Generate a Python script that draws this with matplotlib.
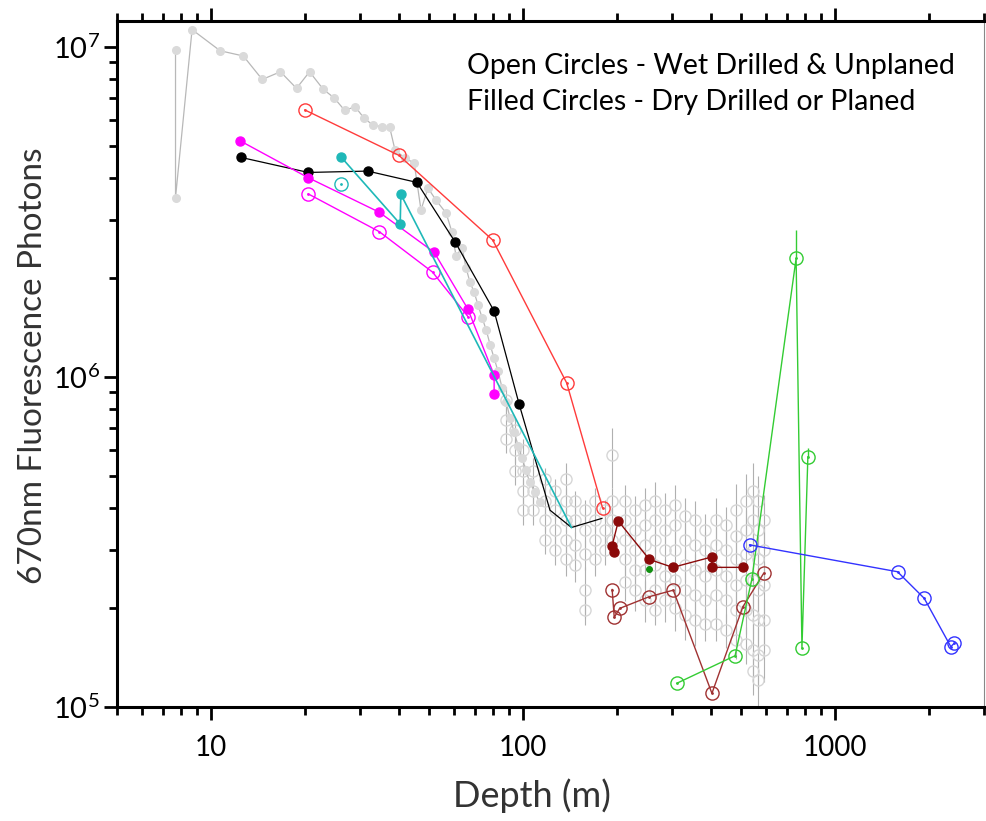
import matplotlib.pyplot as plt
import matplotlib.ticker as mticker
import numpy as np

plt.rcParams['font.family'] = ['Lato', 'DejaVu Sans']
plt.rcParams['mathtext.fontset'] = 'custom'
plt.rcParams['mathtext.rm'] = 'Liberation Sans'

# gray reference profile (filled dots + line)
gray_depth = [7.7, 7.7, 8.7, 10.7, 12.7, 14.6, 16.7, 18.8, 20.7, 22.9, 24.8, 26.8, 29.0,
              31.0, 33.1, 35.2, 37.4, 38.9, 41.9, 44.8, 47.1, 49.6, 52.6, 56.7, 59.2,
              61.0, 63.8, 65.7, 67.6, 69.7, 71.8, 74.0, 76.2, 78.5, 80.8, 83.2, 85.7,
              88.3, 90.9, 93.7, 96.5, 99.4, 102, 105, 109, 113]
gray_phot = [9.8e6, 3.5e6, 1.13e7, 9.75e6, 9.4e6, 7.98e6, 8.42e6, 7.5e6, 8.42e6, 7.45e6,
             7.02e6, 6.44e6, 6.59e6, 6.08e6, 5.8e6, 5.74e6, 5.71e6, 4.87e6, 4.61e6,
             4.45e6, 3.21e6, 3.74e6, 3.44e6, 3.14e6, 2.75e6, 2.33e6, 2.46e6, 2.14e6,
             1.94e6, 1.81e6, 1.65e6, 1.51e6, 1.39e6, 1.25e6, 1.14e6, 1.04e6, 9.26e5,
             8.4e5, 7.51e5, 6.81e5, 6.18e5, 5.68e5, 5.23e5, 4.81e5, 4.48e5, 4.18e5]

# gray cloud (open circles with error bars), photons in units of 1e5
cloud_depth = [88, 88, 88, 94, 94, 94, 100, 100, 100, 100, 108, 108, 108,
               118, 118, 118, 118, 127, 127, 127, 127, 137, 137, 137, 137, 137,
               147, 147, 147, 147, 158, 158, 158, 158, 158, 170, 170, 170, 170,
               183, 183, 183, 193, 193, 193, 193, 212, 212, 212, 212, 212,
               229, 229, 229, 229, 229, 246, 246, 246, 246, 246,
               265, 265, 265, 265, 265, 265, 286, 286, 286, 286, 286,
               308, 308, 308, 308, 308, 331, 331, 331, 331, 331,
               357, 357, 357, 357, 357, 384, 384, 384, 384, 384,
               414, 414, 414, 414, 414, 446, 446, 446, 446, 446,
               480, 480, 480, 480, 480, 480, 517, 517, 517, 517, 517, 517,
               545, 545, 545, 545, 545, 545, 545, 568, 568, 568, 568, 568, 568, 568,
               590, 590, 590, 590, 590]
cloud_phot = [8.5, 7.4, 6.5, 6.9, 6.0, 5.2, 6.0, 5.2, 4.5, 3.95, 5.2, 4.5, 3.95,
              4.9, 4.2, 3.7, 3.2, 4.5, 3.95, 3.45, 3.0, 4.9, 4.2, 3.7, 3.2, 2.8,
              4.2, 3.7, 3.1, 2.7, 3.95, 3.45, 2.9, 2.26, 1.97, 4.2, 3.7, 3.2, 2.8,
              3.95, 3.45, 3.0, 5.8, 4.2, 3.7, 3.2, 4.2, 3.7, 3.2, 2.8, 2.4,
              3.95, 3.45, 3.0, 2.6, 2.26, 4.1, 3.55, 3.1, 2.6, 2.11,
              4.2, 3.7, 3.2, 2.7, 2.26, 1.97, 3.95, 3.45, 3.0, 2.5, 2.11,
              4.1, 3.55, 3.0, 2.42, 2.0, 3.8, 3.2, 2.7, 2.26, 1.9,
              3.7, 3.1, 2.6, 2.18, 1.83, 3.45, 3.0, 2.5, 2.11, 1.78,
              3.7, 3.1, 2.6, 2.18, 1.78, 3.55, 3.0, 2.5, 2.11, 1.71,
              3.95, 3.3, 2.8, 2.34, 1.97, 1.6, 4.2, 3.45, 2.9, 2.42, 1.97, 1.55,
              4.5, 3.7, 3.0, 2.42, 1.9, 1.49, 1.29, 4.2, 3.45, 2.8, 2.26, 1.83, 1.44, 1.21,
              3.7, 3.0, 2.34, 1.83, 1.49]
cloud_err = [0.8, 0.7, 0.6, 0.6, 0.5, 0.5, 0.5, 0.5, 0.4, 0.4, 0.5, 0.4, 0.4,
             0.4, 0.4, 0.3, 0.3, 0.4, 0.3, 0.4, 0.3, 0.6, 0.4, 0.3, 0.3, 0.3,
             0.3, 0.4, 0.3, 0.3, 0.3, 0.4, 0.3, 0.4, 0.2, 0.4, 0.3, 0.3, 0.3,
             0.3, 0.4, 0.3, 1.2, 0.4, 0.3, 0.3, 0.5, 0.3, 0.4, 0.3, 0.3,
             0.4, 0.3, 0.4, 0.3, 0.3, 0.5, 0.4, 0.3, 0.3, 0.3,
             0.6, 0.4, 0.3, 0.4, 0.3, 0.2, 0.5, 0.3, 0.4, 0.3, 0.3,
             0.6, 0.4, 0.4, 0.3, 0.3, 0.5, 0.4, 0.3, 0.3, 0.3,
             0.5, 0.4, 0.3, 0.3, 0.3, 0.4, 0.4, 0.3, 0.3, 0.2,
             0.6, 0.4, 0.3, 0.3, 0.2, 0.5, 0.4, 0.3, 0.3, 0.2,
             0.8, 0.5, 0.4, 0.3, 0.3, 0.2, 0.9, 0.5, 0.4, 0.3, 0.3, 0.2,
             1.0, 0.6, 0.5, 0.4, 0.3, 0.3, 0.2, 0.8, 0.6, 0.4, 0.4, 0.3, 0.3, 0.2,
             0.7, 0.5, 0.4, 0.3, 0.3]

red_depth = [20, 40, 80, 138, 180]
red_phot = [6.45e6, 4.7e6, 2.6e6, 9.6e5, 4.0e5]

black_depth = [12.5, 20.5, 31.8, 45.7, 60.7, 80.8, 97.2, 122, 143, 179]
black_phot = [4.63e6, 4.17e6, 4.21e6, 3.89e6, 2.56e6, 1.585e6, 8.27e5, 3.95e5, 3.5e5, 3.73e5]

mag_fill_depth = [12.4, 20.5, 34.6, 51.9, 66.5, 80.8, 80.8]
mag_fill_phot = [5.2e6, 4.02e6, 3.16e6, 2.39e6, 1.61e6, 1.014e6, 8.88e5]
mag_open_depth = [20.5, 34.6, 51.3, 66.8]
mag_open_phot = [3.59e6, 2.76e6, 2.08e6, 1.52e6]

cyan_depth = [26.2, 40.4, 40.6, 143]
cyan_phot = [4.63e6, 2.91e6, 3.58e6, 3.5e5]
cyan_open_depth = [26.2]
cyan_open_phot = [3.85e6]

maroon_fill_depth = [196, 193, 202, 254, 302, 403, 403, 506]
maroon_fill_phot = [2.94e5, 3.08e5, 3.66e5, 2.8e5, 2.65e5, 2.85e5, 2.65e5, 2.65e5]
maroon_open_depth = [193, 196, 204, 254, 303, 403, 506, 590]
maroon_open_phot = [2.27e5, 1.87e5, 1.99e5, 2.16e5, 2.26e5, 1.10e5, 2.01e5, 2.54e5]

green_dot_depth = [254]
green_dot_phot = [2.62e5]
green_depth = [311, 478, 541, 750, 783, 818]
green_phot = [1.18e5, 1.43e5, 2.44e5, 2.29e6, 1.51e5, 5.73e5]
green_err = [0, 0, 0, 0.5e6, 0, 0.35e5]

blue_depth = [532, 1585, 1930, 2349, 2407]
blue_phot = [3.1e5, 2.57e5, 2.135e5, 1.523e5, 1.56e5]

fig = plt.figure(figsize=(9.86, 8.21), dpi=100)
ax = fig.add_axes([117/986, 1 - 707/821, 867/986, 686/821])

ax.errorbar(cloud_depth, np.array(cloud_phot) * 1e5, yerr=np.array(cloud_err) * 1e5,
            fmt='o', ms=8, mfc='none', mec='#d6d6d6', mew=1.0, ecolor='#b0b0b0',
            elinewidth=0.8, zorder=1)
ax.plot(gray_depth, gray_phot, '-', color='#b8b8b8', lw=0.9, marker='o', ms=5.5,
        mfc='#dadada', mec='#dadada', zorder=2)

def open_series(x, y, c):
    ax.plot(x, y, '-', color=c, lw=1.0, marker='o', ms=9.5, mfc='none', mec=c, mew=1.0, zorder=4)
    ax.plot(x, y, '.', color=c, ms=2, zorder=4)

open_series(red_depth, red_phot, '#ff3b3b')
ax.plot(black_depth, black_phot, '-', color='black', lw=0.9, marker='o', ms=6.5,
        markevery=list(range(7)), zorder=5)
ax.plot(mag_fill_depth, mag_fill_phot, '-', color='#ff00ff', lw=1.0, marker='o', ms=6.5, zorder=5)
open_series(mag_open_depth, mag_open_phot, '#ff00ff')
ax.plot(cyan_depth, cyan_phot, '-', color='#1fb8b8', lw=1.2, marker='o', ms=6.5,
        markevery=[0, 1, 2], zorder=5)
open_series(cyan_open_depth, cyan_open_phot, '#1fb8b8')
ax.plot(maroon_fill_depth, maroon_fill_phot, '-', color='#8b0a0a', lw=1.0, marker='o', ms=6.5, zorder=5)
open_series(maroon_open_depth, maroon_open_phot, '#a03232')
ax.plot(green_dot_depth, green_dot_phot, 'o', color='#109010', ms=4, zorder=5)
ax.errorbar(green_depth, green_phot, yerr=[[0]*len(green_err), green_err], fmt='none',
            ecolor='#33cc33', elinewidth=1.0, zorder=4)
open_series(green_depth, green_phot, '#33cc33')
open_series(blue_depth, blue_phot, '#3333ff')

ax.set_xscale('log')
ax.set_yscale('log')
ax.set_xlim(5, 3000)
ax.set_ylim(1e5, 1.2e7)

ax.xaxis.set_major_formatter(mticker.FuncFormatter(lambda v, p: f'{v:g}'))
ax.xaxis.set_minor_formatter(mticker.NullFormatter())
ax.yaxis.set_major_formatter(mticker.FuncFormatter(
    lambda v, p: r'$\mathregular{10^{%d}}$' % round(np.log10(v))))
ax.yaxis.set_minor_formatter(mticker.NullFormatter())

ax.tick_params(axis='x', which='both', direction='out', top=True, labelsize=20, width=2)
ax.tick_params(axis='y', which='both', direction='out', right=False, labelsize=21, width=2)
ax.tick_params(which='major', length=9.5)
ax.tick_params(which='minor', length=6)
ax.tick_params(axis='x', pad=11)
ax.tick_params(axis='y', pad=3)

for s in ['left', 'bottom', 'top']:
    ax.spines[s].set_linewidth(2.2)
ax.spines['right'].set_linewidth(0.8)
ax.spines['right'].set_color('#888888')

ax.set_xlabel('Depth (m)', fontsize=26, color='#333333')
ax.set_ylabel('670nm Fluorescence Photons', fontsize=24, color='#333333')
ax.xaxis.set_label_coords(0.479, -0.1035)
ax.yaxis.set_label_coords(-0.08, 0.497)

ax.text(0.404, 0.935, 'Open Circles - Wet Drilled & Unplaned', transform=ax.transAxes,
        fontsize=20.5, va='center', ha='left')
ax.text(0.404, 0.882, 'Filled Circles - Dry Drilled or Planed', transform=ax.transAxes,
        fontsize=20.5, va='center', ha='left')

fig.savefig('out.png', dpi=100)
